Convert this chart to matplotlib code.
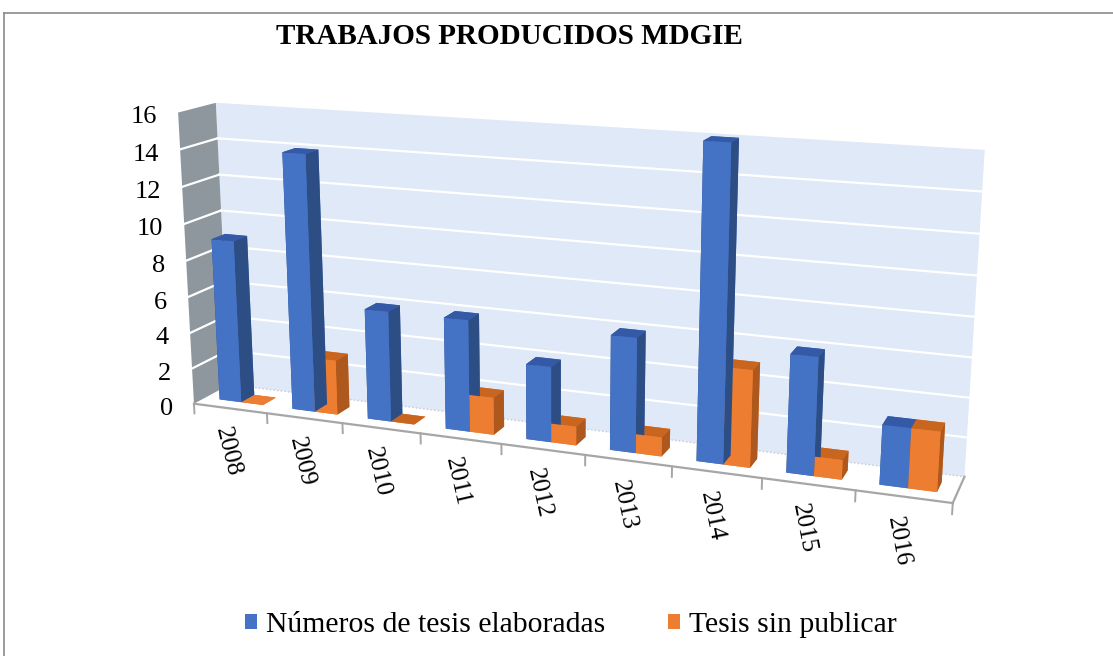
import numpy as np
import matplotlib
matplotlib.use("Agg")
import matplotlib.pyplot as plt
from matplotlib.patches import Patch
from matplotlib.lines import Line2D
from mpl_toolkits.mplot3d.art3d import Poly3DCollection
from mpl_toolkits.mplot3d import proj3d

# ---------------- data ----------------
years = ['2008', '2009', '2010', '2011', '2012', '2013', '2014', '2015', '2016']
tesis_elaboradas = [9, 14, 6, 6, 4, 6, 16, 6, 3]
tesis_sin_publicar = [0, 3, 0, 2, 1, 1, 5, 1, 3]
series_names = ['Números de tesis elaboradas', 'Tesis sin publicar']
y_ticks = [0, 2, 4, 6, 8, 10, 12, 14, 16]
title = 'TRABAJOS PRODUCIDOS MDGIE'

# ---------------- style ----------------
front_cols = ['#4472C4', '#ED7D31']
top_cols = ['#3459A6', '#C8651F']
side_cols = ['#2D4D85', '#AE581D']
wall_back = '#DFE9F7'
wall_side = '#8E979E'
serif = ['Liberation Serif', 'DejaVu Serif']

W, H = 1113, 656
fig = plt.figure(figsize=(W / 100, H / 100), dpi=100)
fig.patch.set_facecolor('white')

S = 1200.0                      # side of the (square) 3-D axes in pixels
cx, cy = 556.0, 287.0           # where the view centre lands (px from top-left)
left = cx - 0.5135 * S
bottom = (H - cy) - 0.5135 * S
ax = fig.add_axes([left / W, bottom / H, S / W, S / H], projection='3d')
ax.patch.set_alpha(0)
ax.set_axis_off()
ax.computed_zorder = False
ax.set_proj_type('persp', focal_length=0.27)
ax.view_init(elev=14.5, azim=-69)

n = len(years)
D = 0.8            # floor depth
zmax = y_ticks[-1]
ax.set_xlim(0, n)
ax.set_ylim(0, D)
ax.set_zlim(0, zmax)
ax.set_box_aspect((n * 0.985, D, zmax * 0.2175), zoom=0.709)

# walls and floor
floor = Poly3DCollection([[(0, 0, 0), (n, 0, 0), (n, D, 0), (0, D, 0)]],
                         facecolors='white', edgecolors='none', zorder=1)
back = Poly3DCollection([[(0, D, 0), (n, D, 0), (n, D, zmax), (0, D, zmax)]],
                        facecolors=wall_back, edgecolors='none', zorder=1)
side = Poly3DCollection([[(0, 0, 0), (0, D, 0), (0, D, zmax), (0, 0, zmax)]],
                        facecolors=wall_side, edgecolors='none', zorder=1)
for c in (floor, back, side):
    ax.add_collection3d(c)

for v in y_ticks[1:]:
    ax.plot([0, n], [D, D], [v, v], color='white', lw=1.6, zorder=2)
    ax.plot([0, 0], [0, D], [v, v], color='white', lw=1.6, zorder=2)

ax.plot([0, n], [D, D], [0, 0], color='#C8C8C8', lw=1, ls=':', zorder=2)
ax.plot([0, n], [0, 0], [0, 0], color='#A6A6A6', lw=1.6, zorder=3)
ax.plot([n, n], [0, D], [0, 0], color='#A6A6A6', lw=1.6, zorder=3)
for i in range(n + 1):
    ax.plot([i, i], [0, 0], [0, -0.55], color='#A6A6A6', lw=1.4, zorder=3)

# bars
bw = 0.30
bd = 0.30
xs, ys, dzs, cols = [], [], [], []
for i in range(n):
    for s, vals in enumerate([tesis_elaboradas, tesis_sin_publicar]):
        xs.append(i + 0.5 - bw + s * bw)
        ys.append((D - bd) / 2)
        dzs.append(vals[i])
        # face order: -z, +z, -y, +y, -x, +x
        cols += [front_cols[s], top_cols[s], front_cols[s], front_cols[s],
                 side_cols[s], side_cols[s]]
ax.bar3d(xs, ys, np.zeros(len(xs)), bw, bd, dzs, color=cols, shade=False,
         zorder=5)

# ---- tick labels placed as 2-D figure texts at projected 3-D positions ----
fig.canvas.draw()
M = ax.get_proj()


def to_px(x, y, z):
    px, py, _ = proj3d.proj_transform(np.atleast_1d(x), np.atleast_1d(y),
                                      np.atleast_1d(z), M)
    d = ax.transData.transform(np.column_stack([px, py]))
    return d[:, 0], d[:, 1]


for v in y_ticks:
    dx, dy = to_px(0, 0, v)
    fig.text((dx[0] - 21) / W, (dy[0] - 5.5) / H, str(v), ha='right',
             va='center', fontsize=19, family=serif)

for i, yr in enumerate(years):
    dx, dy = to_px([i + 0.45, i + 0.50], [0, 0], [-0.95, -1.95])
    ang = np.degrees(np.arctan2(dy[1] - dy[0], dx[1] - dx[0]))
    fig.text(dx[0] / W, dy[0] / H, yr, ha='center', va='top', rotation=ang,
             fontsize=18, family=serif)

# title
fig.text(509 / W, 1 - 37 / H, title, ha='center', va='center',
         fontsize=21, fontweight='bold', family=serif)

# legend
handles = [Patch(facecolor=c, edgecolor='none') for c in front_cols]
fig.legend(handles, series_names, loc='center', bbox_to_anchor=(0.513, 1 - 625 / H),
           ncol=2, frameon=False, prop={'family': serif, 'size': 21.4},
           handlelength=0.42, handleheight=0.42, handletextpad=0.3,
           columnspacing=2.1)

# chart border (top and left visible)
fig.add_artist(Line2D([4 / W, 1], [1 - 13 / H, 1 - 13 / H],
                      transform=fig.transFigure, color='#8A8A8A', lw=1.2))
fig.add_artist(Line2D([4 / W, 4 / W], [0, 1 - 13 / H],
                      transform=fig.transFigure, color='#8A8A8A', lw=1.2))

fig.savefig('out.png', dpi=100, facecolor='white')
